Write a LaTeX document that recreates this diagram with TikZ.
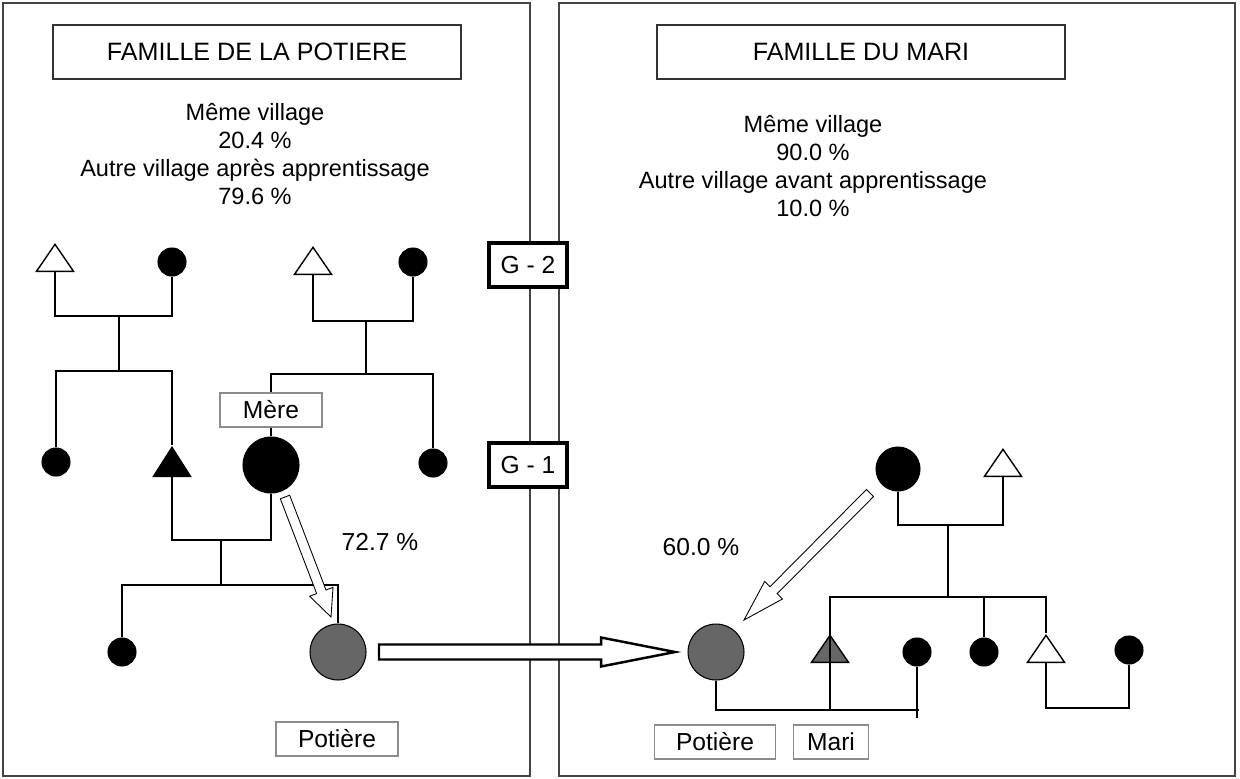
\documentclass[tikz,border=0pt]{standalone}
\usepackage{fontspec}
\setmainfont{Liberation Sans}
\usepackage{tikz}
\usetikzlibrary{calc,shapes.geometric}
\definecolor{potgray}{HTML}{666666}
\definecolor{panelgray}{HTML}{444444}
\definecolor{labelgray}{HTML}{8C8C8C}
\newcommand{\hollowarrow}[6]{%
  \coordinate (ha-base) at ($(#3)!#6!(#2)$);
  \draw[#1] ($(#2)!#4!90:(#3)$) -- ($(ha-base)!#4!90:(#3)$) -- ($(ha-base)!#5!90:(#3)$)
    -- (#3) -- ($(ha-base)!#5!-90:(#3)$) -- ($(ha-base)!#4!-90:(#3)$) -- ($(#2)!#4!-90:(#3)$) -- cycle;}
\tikzset{
  panel/.style={draw=panelgray,line width=1.3pt},
  titlebox/.style={draw=black!80,line width=0.8pt,fill=white,minimum width=8.16cm,minimum height=1.08cm,inner sep=0pt,font=\fontsize{14.3}{16}\selectfont},
  infotext/.style={align=center,font=\fontsize{13.4}{15.9}\selectfont},
  genbox/.style={draw=black,line width=1.8pt,fill=white,minimum width=1.56cm,minimum height=0.88cm,inner sep=0pt,font=\fontsize{14}{16}\selectfont},
  namebox/.style={draw=labelgray,line width=0.6pt,fill=white,minimum height=0.68cm,inner sep=0pt,font=\fontsize{14}{16}\selectfont},
  female/.style={circle,draw=black,fill=black,line width=0.6pt,minimum size=0.56cm,inner sep=0pt},
  male/.style={isosceles triangle,isosceles triangle stretches,shape border rotate=90,draw=black,line width=0.8pt,fill=white,minimum width=0.74cm,minimum height=0.54cm,inner sep=0pt,anchor=lower side},
  link/.style={line width=1pt},
  pctlabel/.style={font=\fontsize{14}{16}\selectfont},
  thinarrow/.style={draw=black,line width=0.5pt,fill=white},
  bigarrow/.style={draw=black,line width=1.4pt,fill=white}
}
\begin{document}
\begin{tikzpicture}[x=0.02cm,y=-0.02cm]
    \useasboundingbox (0,0) rectangle (1240,778);
    \draw[panel] (3,3) rectangle (530,776);
    \draw[panel] (559,3) rectangle (1235,776);

    \node[titlebox] (titleL) at (257,52) {FAMILLE DE LA POTIERE};
    \node[titlebox] (titleR) at (861,52) {FAMILLE DU MARI};
    \node[infotext] (infoL) at (255,154) {Même village\\20.4 \%\\Autre village après apprentissage\\79.6 \%};
    \node[infotext] (infoR) at (813,166) {Même village\\90.0 \%\\Autre village avant apprentissage\\10.0 \%};

    \node[genbox] (gen2) at (528,265) {G - 2};
    \node[genbox] (gen1) at (528,465) {G - 1};

    \node[male] (gpaL) at (55,272) {};
    \node[female] (gmaL) at (172,262) {};
    \coordinate (cplL) at (119,316);
    \coordinate (sibL) at (119,371);
    \node[female] (auntL) at (56,462) {};
    \node[male,fill=black,minimum height=0.58cm] (fatherL) at (172,477) {};
    \draw[link] (gpaL.lower side) |- (cplL) -| (gmaL.south);
    \draw[link] (cplL) -- (sibL);
    \draw[link] (auntL.north) |- (sibL) -| (fatherL.apex);

    \node[male] (gpaM) at (313,275) {};
    \node[female] (gmaM) at (413,262) {};
    \coordinate (cplM) at (366,321);
    \coordinate (sibM) at (366,374);
    \node[female,minimum size=1.12cm] (mere) at (271,465) {};
    \node[female] (auntM) at (433,463) {};
    \draw[link] (gpaM.lower side) |- (cplM) -| (gmaM.south);
    \draw[link] (cplM) -- (sibM);
    \draw[link] (mere.north) |- (sibM) -| (auntM.north);
    \node[namebox,minimum width=2.04cm] (mereLbl) at (271,410) {Mère};

    \coordinate (cplP) at (221,540);
    \coordinate (sibP) at (221,585);
    \node[female] (sisP) at (122,652) {};
    \node[female,fill=potgray,minimum size=1.12cm] (potL) at (338,652) {};
    \draw[link] (fatherL.lower side) |- (cplP) -| (mere.south);
    \draw[link] (cplP) -- (sibP);
    \draw[link] (sisP.north) |- (sibP) -| (potL.north);
    \node[namebox,minimum width=2.44cm] (potLbl) at (337,739) {Potière};
    \node[pctlabel] (pctL) at (380,542) {72.7 \%};
    \coordinate (arrL0) at (285,497);
    \coordinate (arrL1) at (331,617);
    \hollowarrow{thinarrow}{arrL0}{arrL1}{0.1cm}{0.25cm}{0.54cm}

    \node[female,minimum size=0.88cm] (mhR) at (898,469) {};
    \node[male] (fhR) at (1003,477) {};
    \coordinate (cplR) at (948,525);
    \coordinate (sibR) at (948,597);
    \node[male,fill=potgray] (mari) at (830,663) {};
    \node[female] (sisR1) at (917,652) {};
    \node[female] (sisR2) at (984,652) {};
    \node[male] (broR) at (1046,663) {};
    \node[female] (wifeR) at (1129,650) {};
    \node[female,fill=potgray,minimum size=1.12cm] (potR) at (716,652) {};
    \coordinate (cplPM) at (830,710);
    \coordinate (endPM) at (919,710);
    \coordinate (tickS) at (917,718);
    \coordinate (cplB) at (1087,708);
    \draw[link] (mhR.south) |- (cplR) -| (fhR.lower side);
    \draw[link] (cplR) -- (sibR);
    \draw[link] (cplPM) |- (sibR) -| (broR.apex);
    \draw[link] (sibR -| sisR2) -- (sisR2.north);
    \draw[link] (potR.south) |- (endPM);
    \draw[link] (sisR1.south) -- (tickS);
    \draw[link] (broR.lower side) |- (cplB) -| (wifeR.south);
    \node[namebox,minimum width=2.42cm] (potRLbl) at (715,742) {Potière};
    \node[namebox,minimum width=1.5cm] (mariLbl) at (831,742) {Mari};
    \node[pctlabel] (pctR) at (701,547) {60.0 \%};
    \coordinate (arrR0) at (870,493);
    \coordinate (arrR1) at (744,620);
    \hollowarrow{thinarrow}{arrR0}{arrR1}{0.1cm}{0.25cm}{0.84cm}

    \coordinate (arrM0) at (379,652);
    \coordinate (arrM1) at (675,652);
    \hollowarrow{bigarrow}{arrM0}{arrM1}{0.15cm}{0.29cm}{1.48cm}
  \end{tikzpicture}
\end{document}
